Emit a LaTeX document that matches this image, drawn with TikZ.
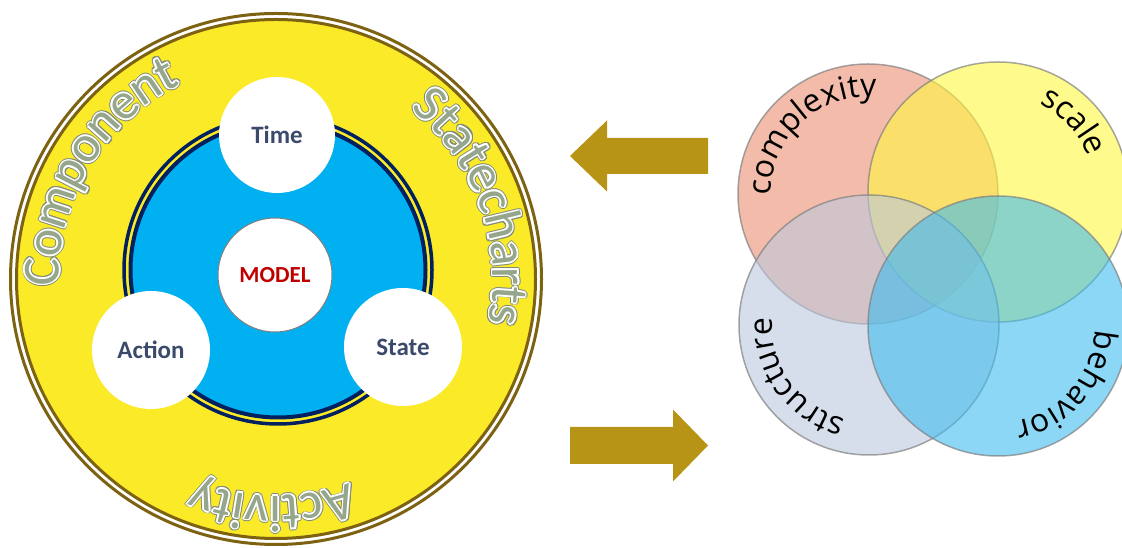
\documentclass[tikz,border=0pt]{standalone}
\usepackage{fontspec}
\usetikzlibrary{decorations.text}
\newfontfamily\calfont{Carlito}
\newfontfamily\vennfont{Open Sans}
\definecolor{ringbrown}{RGB}{125,98,18}
\definecolor{discyellow}{RGB}{250,234,40}
\definecolor{navyring}{RGB}{0,32,96}
\definecolor{skyfill}{RGB}{0,176,240}
\definecolor{slatetext}{RGB}{59,74,107}
\definecolor{modelred}{RGB}{192,0,0}
\definecolor{arrowgold}{RGB}{184,148,22}
\definecolor{arcgreen}{RGB}{150,166,140}
\definecolor{arcedge}{RGB}{128,140,120}
\definecolor{cplxfill}{RGB}{235,143,113}
\definecolor{sclfill}{RGB}{255,247,63}
\definecolor{strcfill}{RGB}{188,200,222}
\definecolor{bhvfill}{RGB}{63,188,238}
\def\arcfont{\calfont\fontsize{52}{52}\selectfont}
\def\vennsize{\vennfont\fontsize{32}{32}\selectfont}
\tikzset{
  part/.style={circle, fill=white, inner sep=0pt, minimum size=118pt,
    font=\calfont\bfseries\fontsize{25}{25}\selectfont, text=slatetext},
  venn/.style={circle, inner sep=0pt, minimum size=260pt, fill opacity=0.6,
    draw=gray, draw opacity=0.7, line width=1.5pt},
  arctext/.style={decorate, decoration={text along path, text align=center,
    text color=#1}},
}
\newcommand\arcword[5]{%
  \foreach \ang in {0,30,...,330}
    \path[arctext=arcedge, decoration={text={|\arcfont|#5}}]
      ([shift={(\ang:2.6)}]#1) ++(#2:#4) arc (#2:#3:#4);
  \foreach \ang in {0,45,...,315}
    \path[arctext=white, decoration={text={|\arcfont|#5}}]
      ([shift={(\ang:1.7)}]#1) ++(#2:#4) arc (#2:#3:#4);
  \path[arctext=arcgreen, decoration={text={|\arcfont|#5}}]
    (#1) ++(#2:#4) arc (#2:#3:#4);
}

\begin{document}
\begin{tikzpicture}[x=1pt,y=1pt]
  \useasboundingbox (0,0) rectangle (1122,548);

  \coordinate (hub) at (276,269);
  \coordinate (core) at (278,278);

  \draw[ringbrown, line width=3pt] (hub) circle (265.5);
  \draw[ringbrown, line width=3pt, fill=discyellow] (hub) circle (259.5);

  \draw[navyring, line width=3.5pt] (core) circle (154);
  \draw[navyring, line width=4pt, fill=skyfill] (core) circle (147.5);

  \node[part, minimum size=116pt] (time) at (277,413) {Time};
  \node[part] (action) at (151,198) {Action};
  \node[part] (state) at (403,201) {State};
  \node[part, minimum size=114pt, draw=gray, line width=1pt, text=modelred,
    font=\calfont\bfseries\fontsize{23}{23}\selectfont] (model) at (275,273) {MODEL};

  \arcword{hub}{209}{89}{217}{Component}
  \arcword{hub}{80}{-40}{217}{Statecharts}
  \arcword{hub}{-31}{-151}{217}{Activity}

  \fill[arrowgold] (570,392) -- (607,427.5) -- (607,410) -- (708,410)
    -- (708,374) -- (607,374) -- (607,356.5) -- cycle;
  \fill[arrowgold] (708,102.5) -- (673,138.5) -- (673,121) -- (570,121)
    -- (570,84) -- (673,84) -- (673,66.5) -- cycle;

  \node[venn, fill=cplxfill] (cplx) at (868,354) {};
  \node[venn, fill=sclfill] (scl) at (998,356) {};
  \node[venn, fill=strcfill] (strc) at (869,223) {};
  \node[venn, fill=bhvfill] (bhv) at (998,222) {};

  \path[arctext=black, decoration={text={|\vennsize|complexity}}]
    (cplx.center) ++(208:97) arc (208:58:97);
  \path[arctext=black, decoration={text={|\vennsize|scale}}]
    (scl.center) ++(118:97) arc (118:-32:97);
  \path[arctext=black, decoration={text={|\vennsize|structure}}]
    (strc.center) ++(291:97) arc (291:141:97);
  \path[arctext=black, decoration={text={|\vennsize|behavior}}]
    (bhv.center) ++(34:97) arc (34:-116:97);
\end{tikzpicture}
\end{document}
